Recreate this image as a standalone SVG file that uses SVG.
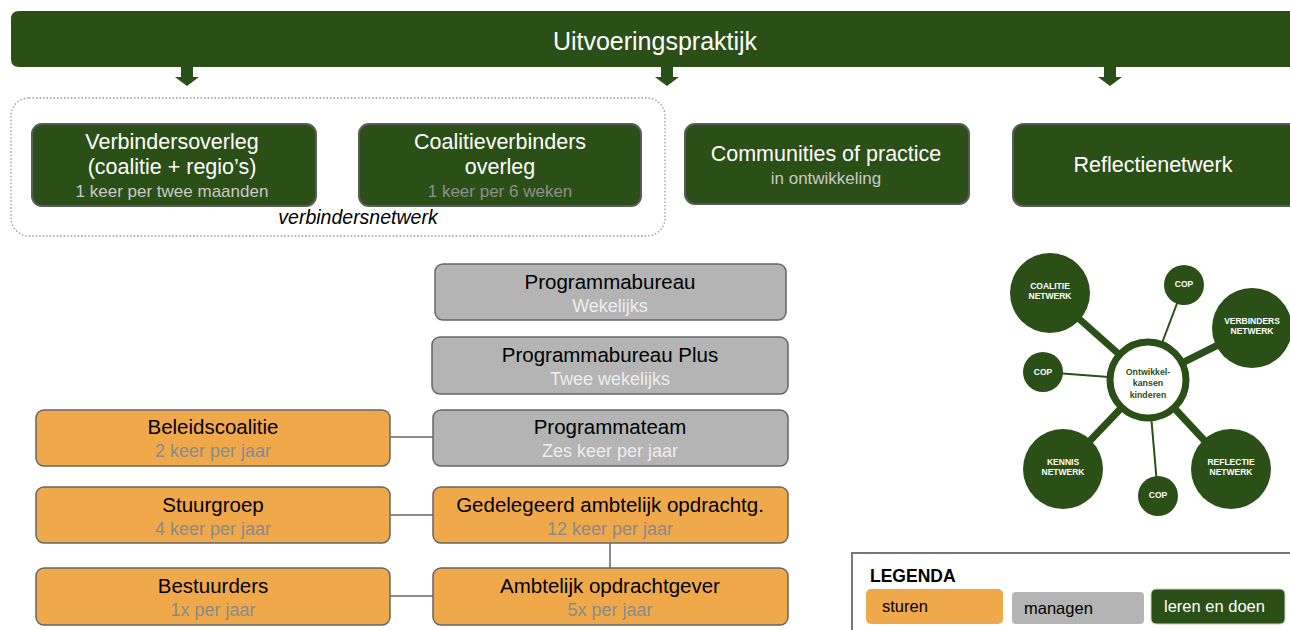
<svg xmlns="http://www.w3.org/2000/svg" width="1290" height="630" viewBox="0 0 1290 630">
<defs>
<style>
text{font-family:"Liberation Sans",Arial,sans-serif;text-anchor:middle}
.g{fill:#2a4f17;stroke:#5a5a5a;stroke-width:2}
.o{fill:#efa94a;stroke:#666;stroke-width:1.5}
.m{fill:#b4b4b4;stroke:#666;stroke-width:1.5}
.t{font-size:21.5px;fill:#fff}
.ts{font-size:17px;fill:#c9c9c9}
.tsg{font-size:17px;fill:#8f8f8f}
.b{font-size:20.5px;fill:#000}
.bs{font-size:18px;fill:#8a8a8a}
.ws{font-size:18px;fill:#eeeeee}
.conn{stroke:#666;stroke-width:1.5;fill:none}
.thick{stroke:#2a4f17;stroke-width:7}
.thin{stroke:#2a4f17;stroke-width:2}
.c{fill:#2a4f17}
.ct{font-size:8.5px;font-weight:bold;fill:#fff}
.cc{font-size:8.8px;font-weight:bold;fill:#2a4f17}
.arr{fill:#2a4f17}
.lg{font-size:16.5px;text-anchor:start}
</style>
</defs>
<rect width="1290" height="630" fill="#fff"/>

<g id="top">
<path d="M19 11 H1300 V67 H19 Q11 67 11 59 V19 Q11 11 19 11 Z" fill="#2a4f17"/>
<text x="655" y="50" style="font-size:25px;fill:#fff">Uitvoeringspraktijk</text>
</g>

<g id="arrows">
<path class="arr" d="M181 67 H193 V77 H199 L187 86 L175 77 H181 Z"/>
<path class="arr" d="M661 67 H673 V77 H679 L667 86 L655 77 H661 Z"/>
<path class="arr" d="M1104 67 H1116 V77 H1122 L1110 86 L1098 77 H1104 Z"/>
</g>

<g id="verbindersnetwerk">
<rect x="11" y="98" width="654" height="138" rx="18" fill="none" stroke="#999" stroke-width="1.3" stroke-dasharray="1.5 2"/>
<text x="358" y="224" style="font-size:19.5px;font-style:italic;fill:#000">verbindersnetwerk</text>
</g>

<g id="verbindersoverleg">
<rect class="g" x="32" y="124" width="284" height="82" rx="10"/>
<text class="t" x="172" y="149">Verbindersoverleg</text>
<text class="t" x="172" y="174">(coalitie + regio’s)</text>
<text class="ts" x="172" y="197">1 keer per twee maanden</text>
</g>

<g id="coalitieverbinders">
<rect class="g" x="359" y="124" width="282" height="82" rx="10"/>
<text class="t" x="500" y="149">Coalitieverbinders</text>
<text class="t" x="500" y="174">overleg</text>
<text class="tsg" x="500" y="197">1 keer per 6 weken</text>
</g>

<g id="cop">
<rect class="g" x="685" y="124" width="284" height="80" rx="10"/>
<text class="t" x="826" y="161">Communities of practice</text>
<text class="ts" x="826" y="184">in ontwikkeling</text>
</g>

<g id="reflectienetwerk">
<rect class="g" x="1013" y="124" width="290" height="82" rx="10"/>
<text class="t" x="1153" y="172">Reflectienetwerk</text>
</g>

<g id="connectors">
<line class="conn" x1="390" y1="437" x2="433" y2="437"/>
<line class="conn" x1="390" y1="515" x2="433" y2="515"/>
<line class="conn" x1="390" y1="596" x2="433" y2="596"/>
<line class="conn" x1="610" y1="543" x2="610" y2="568"/>
</g>

<g id="programmabureau">
<rect class="m" x="435" y="264" width="351" height="56" rx="8"/>
<text class="b" x="610" y="289">Programmabureau</text>
<text class="ws" x="610" y="312">Wekelijks</text>
</g>
<g id="programmabureauplus">
<rect class="m" x="432" y="337" width="356" height="57" rx="8"/>
<text class="b" x="610" y="362">Programmabureau Plus</text>
<text class="ws" x="610" y="385">Twee wekelijks</text>
</g>
<g id="programmateam">
<rect class="m" x="433" y="410" width="355" height="56" rx="8"/>
<text class="b" x="610" y="434">Programmateam</text>
<text class="ws" x="610" y="457">Zes keer per jaar</text>
</g>

<g id="beleidscoalitie">
<rect class="o" x="36" y="410" width="354" height="56" rx="8"/>
<text class="b" x="213" y="434">Beleidscoalitie</text>
<text class="bs" x="213" y="457">2 keer per jaar</text>
</g>
<g id="stuurgroep">
<rect class="o" x="36" y="487" width="354" height="56" rx="8"/>
<text class="b" x="213" y="512">Stuurgroep</text>
<text class="bs" x="213" y="535">4 keer per jaar</text>
</g>
<g id="gedelegeerd">
<rect class="o" x="433" y="487" width="355" height="56" rx="8"/>
<text class="b" x="610" y="512">Gedelegeerd ambtelijk opdrachtg.</text>
<text class="bs" x="610" y="535">12 keer per jaar</text>
</g>
<g id="bestuurders">
<rect class="o" x="36" y="568" width="354" height="57" rx="8"/>
<text class="b" x="213" y="593">Bestuurders</text>
<text class="bs" x="213" y="616">1x per jaar</text>
</g>
<g id="ambtelijk">
<rect class="o" x="433" y="568" width="355" height="57" rx="8"/>
<text class="b" x="610" y="593">Ambtelijk opdrachtgever</text>
<text class="bs" x="610" y="616">5x per jaar</text>
</g>

<g id="network">
<g id="network-links">
<line class="thick" x1="1148" y1="380" x2="1050" y2="293"/>
<line class="thick" x1="1148" y1="380" x2="1252" y2="328"/>
<line class="thick" x1="1148" y1="380" x2="1063" y2="469"/>
<line class="thick" x1="1148" y1="380" x2="1231" y2="469"/>
<line class="thin" x1="1148" y1="380" x2="1184" y2="285"/>
<line class="thin" x1="1148" y1="380" x2="1043" y2="372"/>
<line class="thin" x1="1148" y1="380" x2="1158" y2="496"/>
</g>
<g id="center">
<circle cx="1148" cy="380" r="38" fill="#fff" stroke="#2a4f17" stroke-width="7"/>
<text class="cc" x="1148" y="375">Ontwikkel-</text>
<text class="cc" x="1148" y="386">kansen</text>
<text class="cc" x="1148" y="398">kinderen</text>
</g>
<g id="coalitie-netwerk"><circle class="c" cx="1050" cy="293" r="40"/><text class="ct" x="1050" y="289">COALITIE</text><text class="ct" x="1050" y="299">NETWERK</text></g>
<g id="verbinders-netwerk"><circle class="c" cx="1252" cy="328" r="40"/><text class="ct" x="1252" y="324">VERBINDERS</text><text class="ct" x="1252" y="334">NETWERK</text></g>
<g id="kennis-netwerk"><circle class="c" cx="1063" cy="469" r="40"/><text class="ct" x="1063" y="465">KENNIS</text><text class="ct" x="1063" y="475">NETWERK</text></g>
<g id="reflectie-netwerk"><circle class="c" cx="1231" cy="469" r="40"/><text class="ct" x="1231" y="465">REFLECTIE</text><text class="ct" x="1231" y="475">NETWERK</text></g>
<g id="cop-top"><circle class="c" cx="1184" cy="285" r="20"/><text class="ct" x="1184" y="287">COP</text></g>
<g id="cop-left"><circle class="c" cx="1043" cy="372" r="20"/><text class="ct" x="1043" y="375">COP</text></g>
<g id="cop-bottom"><circle class="c" cx="1158" cy="496" r="20"/><text class="ct" x="1158" y="498">COP</text></g>
</g>

<g id="legenda">
<rect x="852" y="553" width="450" height="90" fill="#fff" stroke="#777" stroke-width="2"/>
<text x="870" y="582" style="font-size:17.5px;font-weight:bold;fill:#000;text-anchor:start">LEGENDA</text>
<rect x="866" y="589" width="137" height="35" rx="5" fill="#efa94a"/>
<text class="lg" x="882" y="612" fill="#000">sturen</text>
<rect x="1012" y="592" width="132" height="32" rx="4" fill="#b4b4b4"/>
<text class="lg" x="1024" y="614" fill="#000">managen</text>
<rect x="1151" y="589" width="134" height="35" rx="5" fill="#2a4f17" stroke="#c8d6c0" stroke-width="1"/>
<text class="lg" x="1164" y="612" fill="#fff">leren en doen</text>
</g>
</svg>
